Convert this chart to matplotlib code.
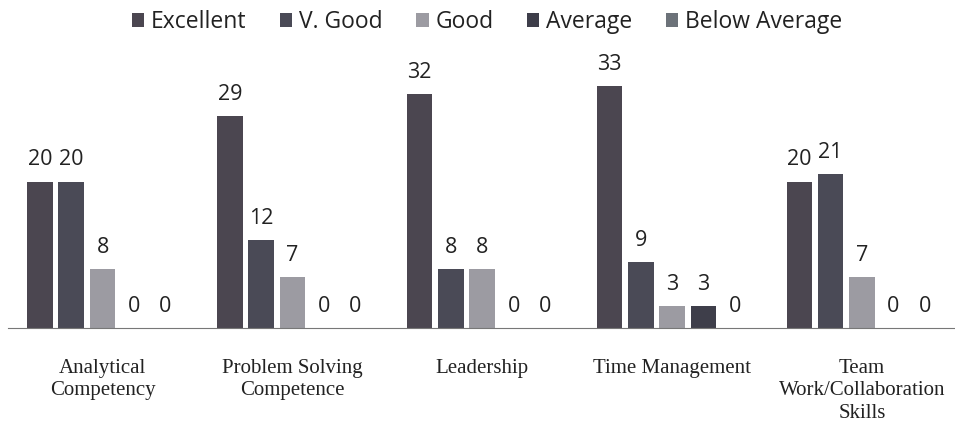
import numpy as np
import matplotlib.pyplot as plt

# categories and series
categories = ['Analytical\nCompetency', 'Problem Solving\nCompetence', 'Leadership',
              'Time Management', 'Team\nWork/Collaboration\nSkills']
series = ['Excellent', 'V. Good', 'Good', 'Average', 'Below Average']
excellent = [20, 29, 32, 33, 20]
v_good = [20, 12, 8, 9, 21]
good = [8, 7, 8, 3, 7]
average = [0, 0, 0, 3, 0]
below_avg = [0, 0, 0, 0, 0]
values = [excellent, v_good, good, average, below_avg]
colors = ['#4b4650', '#4a4a56', '#9c9ba2', '#3e3e4a', '#6c7279']

fig = plt.figure(figsize=(9.55, 4.25), dpi=100)
ax = fig.add_axes([0.008, 0.228, 0.994, 0.655])

x = np.arange(len(categories))
step = 0.165
width = 0.135
for i, (name, vals) in enumerate(zip(series, values)):
    pos = x + (i - 2) * step
    bars = ax.bar(pos, vals, width=width, color=colors[i], label=name)
    for p, v in zip(pos, vals):
        ax.annotate(str(v), (p, v), xytext=(0, 8), textcoords='offset points',
                    ha='center', va='bottom', fontsize=15.5, family='Open Sans',
                    color='#222222')

ax.set_xlim(-0.5, 4.5)
ax.set_ylim(0, 38)
ax.set_yticks([])
ax.set_xticks(x)
ax.set_xticklabels(categories, family='Liberation Serif', fontsize=15, color='#222222',
                   va='top', linespacing=1.25)
ax.tick_params(axis='x', length=0, pad=22)
for s in ['top', 'right', 'left']:
    ax.spines[s].set_visible(False)
ax.spines['bottom'].set_color('#777777')

leg = fig.legend(loc='upper center', bbox_to_anchor=(0.51, 1.025), ncol=5, frameon=False,
                 prop={'family': 'Open Sans', 'size': 16.5}, handlelength=0.55,
                 handleheight=0.55, handletextpad=0.3, columnspacing=1.45)
for t in leg.get_texts():
    t.set_color('#222222')

fig.savefig('out.png', dpi=100)
